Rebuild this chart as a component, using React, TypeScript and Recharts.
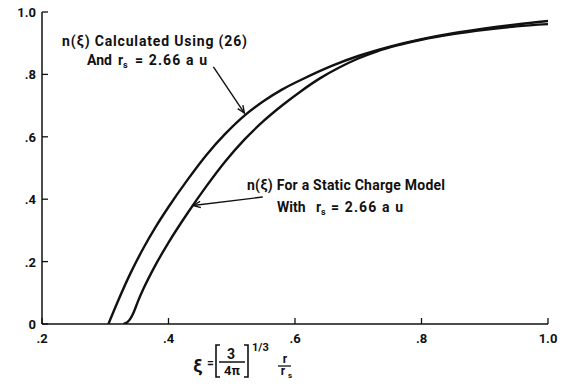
import React from 'react';
import { LineChart, Line, XAxis, YAxis, ReferenceLine } from 'recharts';

// n(xi) calculated using (26), r_s = 2.66 au
const xiCalculated = [0.305, 0.32, 0.34, 0.36, 0.38, 0.4, 0.43, 0.46, 0.49, 0.52, 0.55, 0.58, 0.61, 0.66, 0.7, 0.75, 0.8, 0.85, 0.9, 0.95, 1.0];
const nCalculated = [0, 0.073, 0.163, 0.242, 0.312, 0.375, 0.462, 0.542, 0.61, 0.668, 0.714, 0.752, 0.783, 0.829, 0.859, 0.889, 0.913, 0.932, 0.947, 0.96, 0.971];

// n(xi) for a static charge model, r_s = 2.66 au
const xiStatic = [0.329, 0.335, 0.34, 0.345, 0.352, 0.36, 0.38, 0.4, 0.43, 0.46, 0.49, 0.52, 0.55, 0.58, 0.61, 0.64, 0.67, 0.7, 0.73, 0.76, 0.8, 0.85, 0.9, 0.95, 1.0];
const nStatic = [0, 0.006, 0.018, 0.038, 0.074, 0.111, 0.191, 0.261, 0.355, 0.442, 0.522, 0.591, 0.65, 0.701, 0.747, 0.788, 0.822, 0.851, 0.874, 0.892, 0.911, 0.929, 0.943, 0.954, 0.961];

const xTicks = [0.2, 0.4, 0.6, 0.8, 1.0];
const yTicks = [0, 0.2, 0.4, 0.6, 0.8, 1.0];

// arrow annotations, in data units: [from, to]
const arrowCalculated = [{ x: 0.471, y: 0.824 }, { x: 0.52, y: 0.676 }];
const arrowStatic = [{ x: 0.549, y: 0.407 }, { x: 0.439, y: 0.38 }];

const calcData = xiCalculated.map((xi, i) => ({ xi, n: nCalculated[i] }));
const staticData = xiStatic.map((xi, i) => ({ xi, n: nStatic[i] }));

const FONT = 'Roboto, "DejaVu Sans", sans-serif';
const INK = '#111';

const fmt = (v: number) => (v === 0 ? '0' : v === 1 ? '1.0' : v.toFixed(1).replace(/^0/, ''));

const XTick = (props: any) => {
  const { x, y, payload } = props;
  return (
    <g>
      <line x1={x} y1={y} x2={x} y2={y - 6} stroke={INK} strokeWidth={1.3} />
      <text x={x} y={y + 19} textAnchor="middle" fontFamily={FONT} fontWeight="bold" fontSize={13} fill={INK}>
        {fmt(payload.value)}
      </text>
    </g>
  );
};

const YTick = (props: any) => {
  const { x, y, payload } = props;
  return (
    <g>
      <line x1={x} y1={y} x2={x + 6} y2={y} stroke={INK} strokeWidth={1.3} />
      <text x={x - 6} y={y + 5} textAnchor="end" fontFamily={FONT} fontWeight="bold" fontSize={13} fill={INK}>
        {fmt(payload.value)}
      </text>
    </g>
  );
};

const Arrow = (props: any) => {
  const { x1, y1, x2, y2 } = props;
  const a = Math.atan2(y2 - y1, x2 - x1);
  const len = 8;
  const spread = 0.4;
  const p1 = [x2 - len * Math.cos(a - spread), y2 - len * Math.sin(a - spread)];
  const p2 = [x2 - len * Math.cos(a + spread), y2 - len * Math.sin(a + spread)];
  return (
    <g stroke={INK} strokeWidth={1.4} fill="none">
      <line x1={x1} y1={y1} x2={x2} y2={y2} />
      <polyline points={`${p1[0]},${p1[1]} ${x2},${y2} ${p2[0]},${p2[1]}`} />
    </g>
  );
};

const textStyle = { fontFamily: FONT, fontWeight: 'bold' as const, fill: INK };

const Overlay = () => (
  <svg width={564} height={389} style={{ position: 'absolute', left: 0, top: 0, pointerEvents: 'none' }}>
    {/* upper annotation */}
    <text x={62} y={46} fontSize={14} textLength={185} lengthAdjust="spacing" {...textStyle}>n(ξ) Calculated Using (26)</text>
    <text x={87} y={65} fontSize={14} {...textStyle}>And</text>
    <text x={118} y={65} fontSize={14} {...textStyle}>r</text>
    <text x={123} y={68} fontSize={9} {...textStyle}>s</text>
    <text x={135} y={65} fontSize={14} textLength={72} lengthAdjust="spacing" {...textStyle}>= 2.66 a u</text>

    {/* lower annotation */}
    <text x={247} y={190} fontSize={14} textLength={198} lengthAdjust="spacing" {...textStyle}>n(ξ) For a Static Charge Model</text>
    <text x={277} y={212} fontSize={14} {...textStyle}>With</text>
    <text x={316} y={212} fontSize={14} {...textStyle}>r</text>
    <text x={321} y={215} fontSize={9} {...textStyle}>s</text>
    <text x={331} y={212} fontSize={14} textLength={72} lengthAdjust="spacing" {...textStyle}>= 2.66 a u</text>

    {/* x axis title */}
    <text x={193} y={372} fontSize={18} {...textStyle}>ξ</text>
    <text x={207} y={367} fontSize={12} {...textStyle}>=</text>
    <path d="M220,345 H216 V377 H220 M244,345 H248 V377 H244" stroke={INK} strokeWidth={1.6} fill="none" />
    <text x={231} y={359} fontSize={14} textAnchor="middle" {...textStyle}>3</text>
    <line x1={219} y1={362} x2={245} y2={362} stroke={INK} strokeWidth={1.5} />
    <text x={232} y={375} fontSize={13} textAnchor="middle" {...textStyle}>4π</text>
    <text x={252} y={351} fontSize={11} {...textStyle}>1/3</text>
    <text x={285} y={363} fontSize={12} textAnchor="middle" {...textStyle}>r</text>
    <line x1={278} y1={366} x2={291} y2={366} stroke={INK} strokeWidth={1.3} />
    <text x={283} y={375} fontSize={12} textAnchor="middle" {...textStyle}>r</text>
    <text x={288} y={378} fontSize={8} {...textStyle}>s</text>
  </svg>
);

export default function App() {
  return (
    <div style={{ position: 'absolute', left: 0, top: 0, width: 564, height: 389, background: '#fff' }}>
      <LineChart width={564} height={389} margin={{ top: 12, right: 16, bottom: 35, left: 0 }}>
        <XAxis
          type="number"
          dataKey="xi"
          domain={[0.2, 1.0]}
          ticks={xTicks}
          allowDataOverflow
          height={30}
          tickLine={false}
          tickSize={0}
          tickMargin={0}
          tick={<XTick />}
          axisLine={{ stroke: INK, strokeWidth: 1.5 }}
        />
        <YAxis
          type="number"
          dataKey="n"
          domain={[0, 1.0]}
          ticks={yTicks}
          allowDataOverflow
          width={42}
          tickLine={false}
          tickSize={0}
          tickMargin={0}
          tick={<YTick />}
          axisLine={{ stroke: INK, strokeWidth: 1.5 }}
        />
        <Line data={calcData} dataKey="n" type="monotone" stroke={INK} strokeWidth={2.4} dot={false} isAnimationActive={false} />
        <Line data={staticData} dataKey="n" type="monotone" stroke={INK} strokeWidth={2.4} dot={false} isAnimationActive={false} />
        <ReferenceLine segment={arrowCalculated} shape={<Arrow />} />
        <ReferenceLine segment={arrowStatic} shape={<Arrow />} />
      </LineChart>
      <Overlay />
    </div>
  );
}
